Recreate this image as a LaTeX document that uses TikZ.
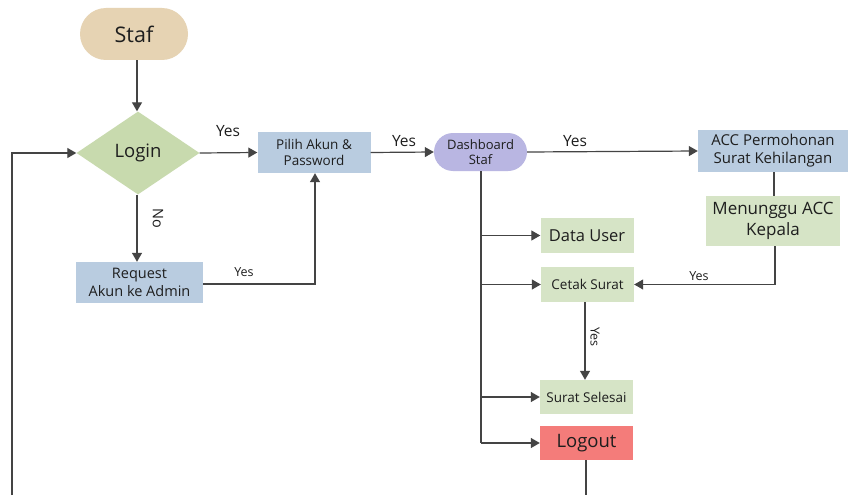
\documentclass[tikz,border=0pt]{standalone}
\usepackage{fontspec}
\setmainfont{Open Sans}
\usetikzlibrary{arrows.meta,shapes.geometric,shapes.misc}
\definecolor{tanc}{HTML}{E6D3B3}
\definecolor{greenc}{HTML}{C8DAAE}
\definecolor{lgreen}{HTML}{D6E4C6}
\definecolor{bluec}{HTML}{B9CCE0}
\definecolor{lav}{HTML}{B9B6E2}
\definecolor{redc}{HTML}{F47C7A}
\definecolor{txt}{HTML}{1E1E1E}
\definecolor{ln}{HTML}{444444}
\tikzset{
  x=1pt,y=-1pt,
  box/.style={rectangle,inner sep=0pt,text=txt,align=center},
  pill/.style={rounded rectangle,inner sep=0pt,text=txt,align=center},
  conn/.style={draw=ln,line width=1.2pt},
  arr/.style={conn,-{Triangle[length=9pt,width=10pt]}},
  lbl/.style={text=txt,inner sep=0pt},
}
\begin{document}
\begin{tikzpicture}
\useasboundingbox (0,0) rectangle (848,495);
\fill[white] (0,0) rectangle (848,495);
% nodes
\node[pill,fill=tanc,minimum width=108pt,minimum height=52pt,font=\fontsize{21.5}{24}\selectfont] (staf) at (134,34) {Staf};
\node[diamond,fill=greenc,minimum width=123pt,minimum height=83pt,inner sep=0pt,aspect=1.48,text=txt,font=\fontsize{18.5}{22}\selectfont] (login) at (138,153) {Login};
\node[box,fill=bluec,minimum width=113pt,minimum height=41pt,font=\fontsize{13.5}{16}\selectfont] (pilih) at (314,152.5) {Pilih Akun \&\\Password};
\node[pill,fill=lav,minimum width=93pt,minimum height=38pt,font=\fontsize{13}{15.5}\selectfont] (dash) at (480.5,152) {Dashboard\\Staf};
\node[box,fill=bluec,minimum width=150pt,minimum height=42pt,font=\fontsize{15}{18}\selectfont] (acc) at (773,151) {ACC Permohonan\\Surat Kehilangan};
\node[box,fill=lgreen,minimum width=134pt,minimum height=50pt,font=\fontsize{17}{20.5}\selectfont] (tunggu) at (773,221) {Menunggu ACC\\Kepala};
\node[box,fill=lgreen,minimum width=93pt,minimum height=35pt,font=\fontsize{16.5}{19}\selectfont] (user) at (587,235.5) {Data User};
\node[box,fill=lgreen,minimum width=93pt,minimum height=35pt,font=\fontsize{13.5}{16}\selectfont] (cetak) at (587.5,284.5) {Cetak Surat};
\node[box,fill=lgreen,minimum width=93pt,minimum height=34pt,font=\fontsize{13.5}{16}\selectfont] (selesai) at (586.5,397) {Surat Selesai};
\node[box,fill=redc,minimum width=93pt,minimum height=34pt,font=\fontsize{18.5}{21}\selectfont] (logout) at (586.5,443) {Logout};
\node[box,fill=bluec,minimum width=127pt,minimum height=41pt,font=\fontsize{14.5}{17.5}\selectfont] (req) at (139.5,282.5) {Request\\Akun ke Admin};
% coordinates
\coordinate (loopb) at (12,495);
\coordinate (logb) at (586,495);
\coordinate (trunkb) at (481,443);
% connectors
\draw[arr] (staf.south -| 137,0) -- (login.north -| 137,0);
\draw[arr] (loopb) -- (12,153) -- (login.west);
\draw[arr] (login.east) -- (pilih.west);
\draw[arr] (pilih.east) -- (dash.west);
\draw[arr] (dash.east) -- (acc.west);
\draw[conn] (acc.south -| 774,0) -- (tunggu.north -| 774,0);
\draw[arr] (tunggu.south -| 775,0) -- (775,284.5) -- (cetak.east);
\draw[conn] (dash.south -| 481,0) -- (trunkb);
\draw[arr] (481,235.5) -- (user.west);
\draw[arr] (481,284.5) -- (cetak.west);
\draw[arr] (481,397) -- (selesai.west);
\draw[arr] (trunkb) -- (logout.west);
\draw[arr] (cetak.south -| 585,0) -- (selesai.north -| 585,0);
\draw[conn] (logout.south -| 586,0) -- (logb);
\draw[arr] (login.south -| 137,0) -- (req.north -| 137,0);
\draw[arr] (req.east |- 0,284) -- (315,284) -- (pilih.south -| 315,0);
% labels
\node[lbl,font=\fontsize{15.5}{18}\selectfont] (y1) at (228,131) {Yes};
\node[lbl,font=\fontsize{15.5}{18}\selectfont] (y2) at (404,141) {Yes};
\node[lbl,font=\fontsize{15.5}{18}\selectfont] (y3) at (575,141) {Yes};
\node[lbl,font=\fontsize{12.5}{15}\selectfont] (y4) at (699,276) {Yes};
\node[lbl,font=\fontsize{12.5}{15}\selectfont] (y5) at (244,272) {Yes};
\node[lbl,font=\fontsize{12.5}{15}\selectfont,rotate=-90] (y6) at (595,337) {Yes};
\node[lbl,font=\fontsize{14.5}{17}\selectfont,rotate=-90] (no) at (158,218) {No};
\end{tikzpicture}
\end{document}
